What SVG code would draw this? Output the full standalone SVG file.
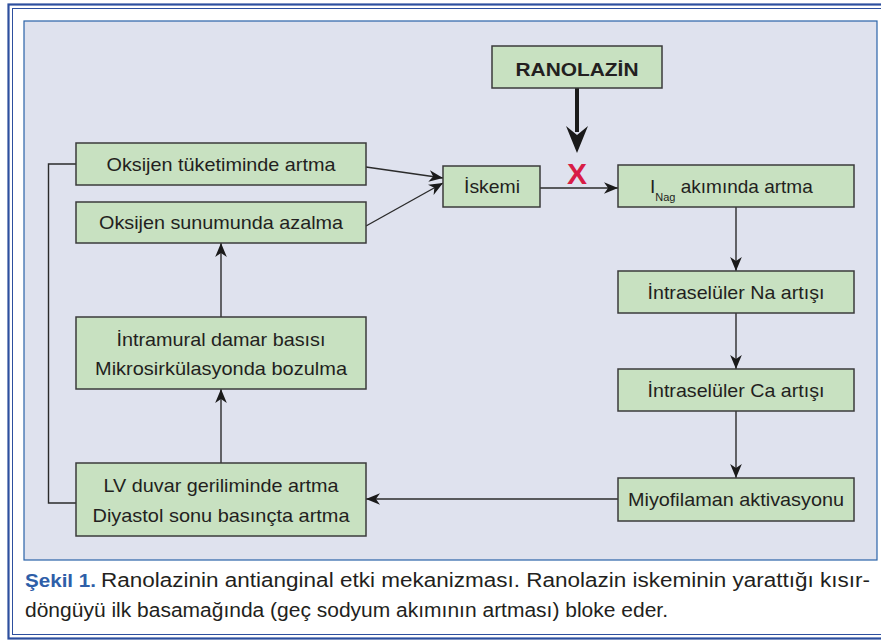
<svg xmlns="http://www.w3.org/2000/svg" width="881" height="640" viewBox="0 0 881 640">
<style>
.box{fill:#c8e1c1;stroke:#3b3b3b;stroke-width:1.5}
.t{font-family:"Liberation Sans",Arial,sans-serif;font-size:19px;fill:#231f20;text-anchor:middle}
.c{fill:none;stroke:#2b2b2b;stroke-width:1.4}
.cap{font-family:"Liberation Sans",Arial,sans-serif;font-size:19px;fill:#231f20}
</style>
<defs>
<marker id="ah" markerUnits="userSpaceOnUse" markerWidth="14" markerHeight="12" refX="12" refY="5" orient="auto" viewBox="0 0 12 10">
<path d="M0,0 L12,5 L0,10 L3.5,5 z" fill="#1a1a1a"/>
</marker>
</defs>
<rect x="0" y="0" width="881" height="640" fill="#ffffff"/>
<rect x="8.5" y="4.5" width="880" height="634" fill="none" stroke="#2d4f9e" stroke-width="2.2"/>
<rect x="12.5" y="8.5" width="872" height="626" fill="none" stroke="#2d4f9e" stroke-width="1"/>
<rect x="24" y="21" width="853" height="539" fill="#dfe2ee" stroke="#2a63a8" stroke-width="1.2"/>

<g id="connectors">
<polyline class="c" points="76,503 48.5,503 48.5,164 76,164"/>
<line class="c" x1="366" y1="167" x2="443" y2="178" marker-end="url(#ah)"/>
<line class="c" x1="366" y1="226" x2="443" y2="183" marker-end="url(#ah)"/>
<line class="c" x1="540" y1="188" x2="618" y2="188" marker-end="url(#ah)"/>
<line class="c" x1="736" y1="207" x2="736" y2="271" marker-end="url(#ah)"/>
<line class="c" x1="736" y1="313" x2="736" y2="369" marker-end="url(#ah)"/>
<line class="c" x1="736" y1="411" x2="736" y2="478" marker-end="url(#ah)"/>
<line class="c" x1="618" y1="499" x2="366" y2="499" marker-end="url(#ah)"/>
<line class="c" x1="221" y1="463" x2="221" y2="389" marker-end="url(#ah)"/>
<line class="c" x1="221" y1="317" x2="221" y2="243" marker-end="url(#ah)"/>
<line x1="577" y1="88" x2="577" y2="132" stroke="#1a1a1a" stroke-width="4"/>
<path d="M566,126 L577,153 L588,126 L577,135 z" fill="#1a1a1a"/>
</g>

<g id="block-mark">
<text x="577" y="184" font-family="Liberation Sans,Arial,sans-serif" font-weight="bold" font-size="30" fill="#d81d45" text-anchor="middle">X</text>
</g>

<g id="ranolazin">
<rect class="box" x="492" y="46" width="170" height="42"/>
<text class="t" x="577" y="76" font-weight="bold" font-size="20" textLength="123" lengthAdjust="spacingAndGlyphs">RANOLAZİN</text>
</g>
<g id="iskemi">
<rect class="box" x="443" y="166" width="97" height="41"/>
<text class="t" x="492" y="193" textLength="56" lengthAdjust="spacingAndGlyphs">İskemi</text>
</g>
<g id="inag">
<rect class="box" x="618" y="165" width="236" height="42"/>
<text class="cap" x="650" y="193">I<tspan dy="8" font-size="11">Nag</tspan><tspan dy="-8"> akımında artma</tspan></text>
</g>
<g id="oksijen-tuketim">
<rect class="box" x="76" y="143" width="290" height="42"/>
<text class="t" x="221" y="171" textLength="229" lengthAdjust="spacingAndGlyphs">Oksijen tüketiminde artma</text>
</g>
<g id="oksijen-sunum">
<rect class="box" x="76" y="202" width="290" height="41"/>
<text class="t" x="221" y="229" textLength="244" lengthAdjust="spacingAndGlyphs">Oksijen sunumunda azalma</text>
</g>
<g id="intramural">
<rect class="box" x="76" y="317" width="290" height="72"/>
<text class="t" x="221" y="346" textLength="209" lengthAdjust="spacingAndGlyphs">İntramural damar basısı</text>
<text class="t" x="221" y="375" textLength="252" lengthAdjust="spacingAndGlyphs">Mikrosirkülasyonda bozulma</text>
</g>
<g id="lv">
<rect class="box" x="76" y="463" width="290" height="73"/>
<text class="t" x="221" y="492" textLength="235" lengthAdjust="spacingAndGlyphs">LV duvar geriliminde artma</text>
<text class="t" x="221" y="522" textLength="257" lengthAdjust="spacingAndGlyphs">Diyastol sonu basınçta artma</text>
</g>
<g id="na">
<rect class="box" x="618" y="271" width="236" height="42"/>
<text class="t" x="736" y="299" textLength="177" lengthAdjust="spacingAndGlyphs">İntraselüler Na artışı</text>
</g>
<g id="ca">
<rect class="box" x="618" y="369" width="236" height="42"/>
<text class="t" x="736" y="397" textLength="177" lengthAdjust="spacingAndGlyphs">İntraselüler Ca artışı</text>
</g>
<g id="miyofilaman">
<rect class="box" x="618" y="478" width="236" height="43"/>
<text class="t" x="736" y="506" textLength="216" lengthAdjust="spacingAndGlyphs">Miyofilaman aktivasyonu</text>
</g>

<g id="caption">
<text class="cap" x="25" y="587" font-weight="bold" style="fill:#2e5ea8" textLength="71" lengthAdjust="spacingAndGlyphs">Şekil 1.</text>
<text class="cap" x="101" y="587" font-size="20" style="font-size:20px" textLength="769" lengthAdjust="spacingAndGlyphs">Ranolazinin antianginal etki mekanizması. Ranolazin iskeminin yarattığı kısır-</text>
<text class="cap" x="25" y="617" style="font-size:20px" textLength="643" lengthAdjust="spacingAndGlyphs">döngüyü ilk basamağında (geç sodyum akımının artması) bloke eder.</text>
</g>
</svg>
